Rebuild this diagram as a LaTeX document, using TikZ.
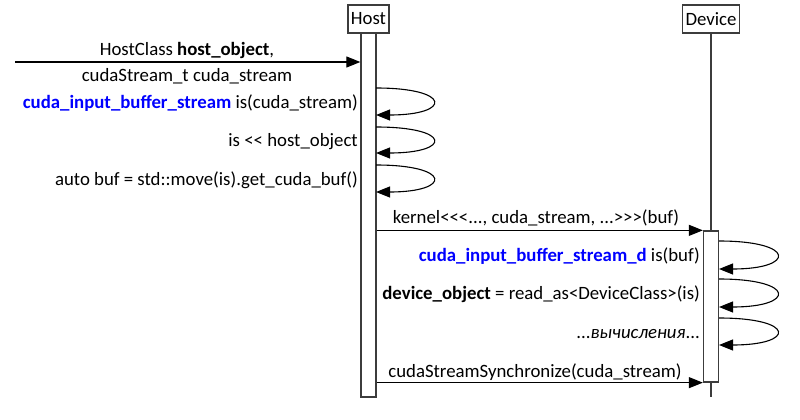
\documentclass[tikz,border=0pt]{standalone}
\usepackage{fontspec}
\setmainfont{Carlito}[Ligatures=TeXOff]
\usetikzlibrary{arrows.meta}
\definecolor{kwblue}{RGB}{0,0,255}
\definecolor{linegray}{RGB}{60,60,60}
\tikzset{
  txt/.style={font=\fontsize{18.8}{22}\selectfont},
  actor/.style={txt, draw=linegray, line width=1.3pt, fill=white, minimum height=28pt, inner xsep=3pt, inner ysep=0pt},
  lifeline/.style={draw=linegray, line width=1.3pt},
  bar/.style={draw=linegray, line width=1.3pt, fill=white, minimum width=15pt, inner sep=0pt},
  msg/.style={draw=black, line width=1.1pt, -{Triangle[length=14pt,width=11pt]}},
  loop/.style={draw=black, line width=1.1pt, -{Triangle[length=14pt,width=11pt]}},
  lbl/.style={txt, inner sep=0pt},
}
\begin{document}
\begin{tikzpicture}[x=1pt,y=-1pt]
\useasboundingbox (0,0) rectangle (800,420);
% actors and lifelines
\node[actor] (host) at (368.5,19) {Host};
\node[actor] (device) at (711,19) {Device};
\coordinate (hend) at (368.5,397);
\coordinate (dend) at (711,397);
\draw[lifeline] (host.south) -- (hend);
\draw[lifeline] (device.south) -- (dend);
\node[bar, minimum height=364pt] (hbar) at (368.5,215) {};
\node[bar, minimum height=151pt] (dbar) at (711,306.5) {};

% incoming call
\coordinate (caller) at (15,62);
\draw[msg] (caller) -- (hbar.west |- caller);
\node[lbl] (m1a) at (187,50) {HostClass \textbf{host\_object},};
\node[lbl] (m1b) at (187,76) {cudaStream\_t cuda\_stream};

% host self loops
\coordinate (h1s) at (376,88);  \coordinate (h1e) at (376,115);
\coordinate (h2s) at (376,127); \coordinate (h2e) at (376,153);
\coordinate (h3s) at (376,165); \coordinate (h3e) at (376,192);
\draw[loop] (h1s) .. controls (452,88) and (452,115) .. (h1e);
\draw[loop] (h2s) .. controls (452,127) and (452,153) .. (h2e);
\draw[loop] (h3s) .. controls (452,165) and (452,192) .. (h3e);
\node[lbl, anchor=east] (l1) at (358,103) {\textcolor{kwblue}{\textbf{cuda\_input\_buffer\_stream}} is(cuda\_stream)};
\node[lbl, anchor=east] (l2) at (358,142) {is << host\_object};
\node[lbl, anchor=east] (l3) at (358,180) {auto buf = std::move(is).get\_cuda\_buf()};

% kernel launch
\draw[msg] (hbar.east |- dbar.north) -- (dbar.north west);
\node[lbl] (k) at (536,218) {kernel<<<..., cuda\_stream, ...>>>(buf)};

% device self loops
\coordinate (d1s) at (719,241); \coordinate (d1e) at (719,269);
\coordinate (d2s) at (719,279); \coordinate (d2e) at (719,307);
\coordinate (d3s) at (719,318); \coordinate (d3e) at (719,345);
\draw[loop] (d1s) .. controls (796,241) and (796,269) .. (d1e);
\draw[loop] (d2s) .. controls (796,279) and (796,307) .. (d2e);
\draw[loop] (d3s) .. controls (796,318) and (796,345) .. (d3e);
\node[lbl, anchor=east] (dl1) at (700,256) {\textcolor{kwblue}{\textbf{cuda\_input\_buffer\_stream\_d}} is(buf)};
\node[lbl, anchor=east] (dl2) at (700,294) {\textbf{device\_object} = read\_as<DeviceClass>(is)};
\node[lbl, anchor=east] (dl3) at (700,334) {...\textit{вычисления}...};

% synchronize
\draw[msg] (hbar.east |- dbar.south) -- (dbar.south west);
\node[lbl] (s) at (535,372) {cudaStreamSynchronize(cuda\_stream)};
\end{tikzpicture}
\end{document}
